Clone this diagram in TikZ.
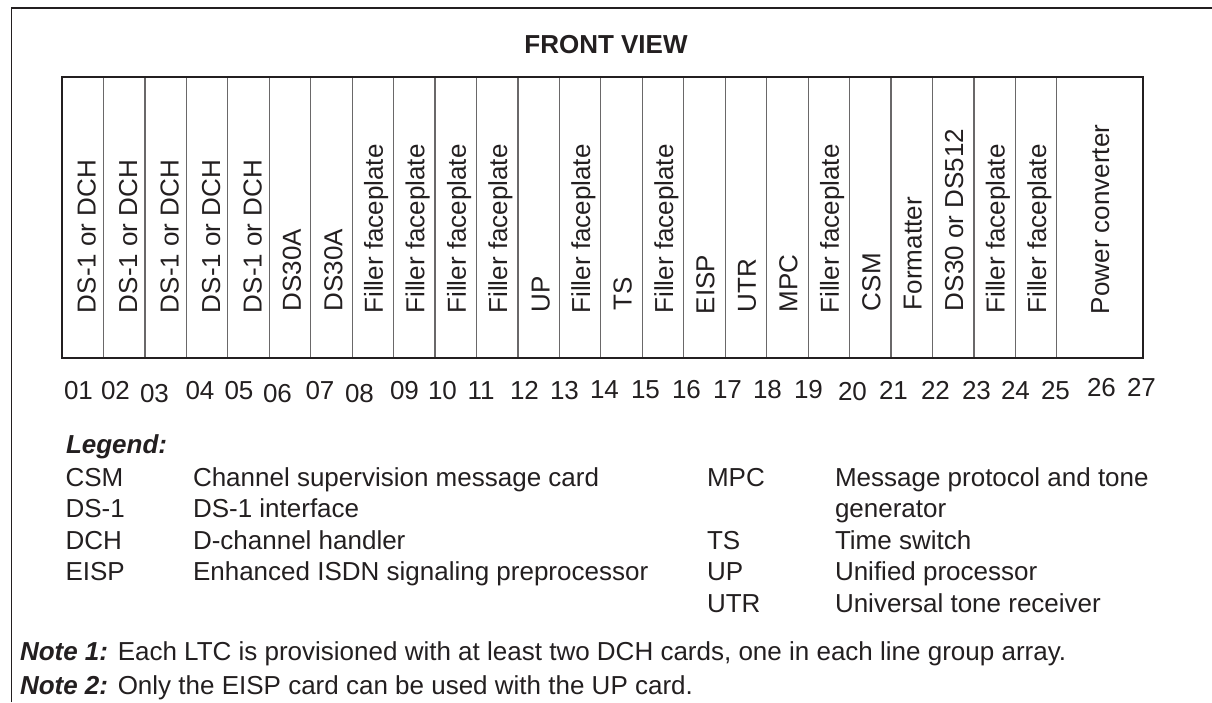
\documentclass[tikz,border=0pt]{standalone}
\usepackage{fontspec}
\setmainfont{Liberation Sans}
\definecolor{ink}{HTML}{231F20}
\definecolor{divcol}{HTML}{6A6869}
\begin{document}
\begin{tikzpicture}[x=1pt,y=-1pt,
  every node/.style={inner sep=0pt, outer sep=0pt, text=ink},
  txt/.style={font=\fontsize{26}{31}\selectfont, anchor=base west},
  slotlabel/.style={txt, rotate=90},
  ttl/.style={font=\fontsize{26}{31}\selectfont\bfseries, anchor=base},
  frameline/.style={draw=ink, line width=1.6pt},
  boxline/.style={draw=ink, line width=2.6pt},
  divider/.style={draw=divcol, line width=1.2pt}]
\useasboundingbox (0,0) rectangle (1212,702);
% outer frame
\draw[frameline] (11.5,702) -- (11.5,8) -- (1212,8);
% title
\node[ttl] (title) at (606,53) {FRONT VIEW};
% slot dividers
\foreach \i in {1,...,24} {
  \draw[divider] ({62+41.45*\i},77) -- ({62+41.45*\i},358);
}
% shelf box
\draw[boxline] (62,77) rectangle (1143,358);
% slot labels
\foreach \i/\t/\dx/\yy in {
  1/{DS-1 or DCH}/13/313, 2/{DS-1 or DCH}/13/313, 3/{DS-1 or DCH}/13/313,
  4/{DS-1 or DCH}/13/313, 5/{DS-1 or DCH}/13/313,
  6/DS30A/11/311.5, 7/DS30A/11/311.5,
  8/{Filler faceplate}/10/313.5, 9/{Filler faceplate}/10/313.5,
  10/{Filler faceplate}/10/313.5, 11/{Filler faceplate}/10/313.5,
  12/UP/11/312, 13/{Filler faceplate}/10/313.5, 14/TS/10/310.5,
  15/{Filler faceplate}/10/313.5, 16/EISP/10/314, 17/UTR/10/312,
  18/MPC/10/312.5, 19/{Filler faceplate}/10/313.5, 20/CSM/10/311,
  21/Formatter/10/310, 22/{DS30 or DS512}/10/311,
  23/{Filler faceplate}/10/313.5, 24/{Filler faceplate}/10/313.5} {
  \node[slotlabel] (lab\i) at ({62+41.45*(\i-0.5)+\dx},\yy) {\t};
}
\node[slotlabel] (lab25) at (1109,314) {Power converter};
% slot numbers
\foreach \n/\xx/\yy in {01/64/399, 02/101/399, 03/140/402, 04/185.5/399,
  05/224.5/399, 06/263/402, 07/305.5/399, 08/345/402, 09/390/399,
  10/428/399, 11/467.7/399, 12/510/399, 13/550/399, 14/590/398,
  15/631/398, 16/672/398, 17/713/398, 18/753/398, 19/794/398,
  20/838/400, 21/879/399, 22/921/399, 23/962/399, 24/1001/399,
  25/1041/399, 26/1087/396, 27/1127/396} {
  \node[txt] (num\n) at (\xx,\yy) {\n};
}
% legend
\node[txt] (legend) at (66,453.5) {\bfseries\itshape Legend:};
\node[txt] (aCSM) at (65.5,486) {CSM};
\node[txt] (dCSM) at (193,486) {Channel supervision message card};
\node[txt] (aDS1) at (65.5,517.5) {DS-1};
\node[txt] (dDS1) at (193,517.5) {DS-1 interface};
\node[txt] (aDCH) at (65.5,549) {DCH};
\node[txt] (dDCH) at (193,549) {D-channel handler};
\node[txt] (aEISP) at (65.5,580.5) {EISP};
\node[txt] (dEISP) at (193,580.5) {Enhanced ISDN signaling preprocessor};
\node[txt] (aMPC) at (707,486) {MPC};
\node[txt] (dMPC) at (835,486) {Message protocol and tone};
\node[txt] (dMPC2) at (835,517.5) {generator};
\node[txt] (aTS) at (707,549) {TS};
\node[txt] (dTS) at (835,549) {Time switch};
\node[txt] (aUP) at (707,580.5) {UP};
\node[txt] (dUP) at (835,580.5) {Unified processor};
\node[txt] (aUTR) at (707,612) {UTR};
\node[txt] (dUTR) at (835,612) {Universal tone receiver};
% notes
\node[txt] (note1) at (20,660) {\textbf{\textit{Note 1:}} Each LTC is provisioned with at least two DCH cards, one in each line group array.};
\node[txt] (note2) at (20,694) {\textbf{\textit{Note 2:}} Only the EISP card can be used with the UP card.};
\end{tikzpicture}
\end{document}
